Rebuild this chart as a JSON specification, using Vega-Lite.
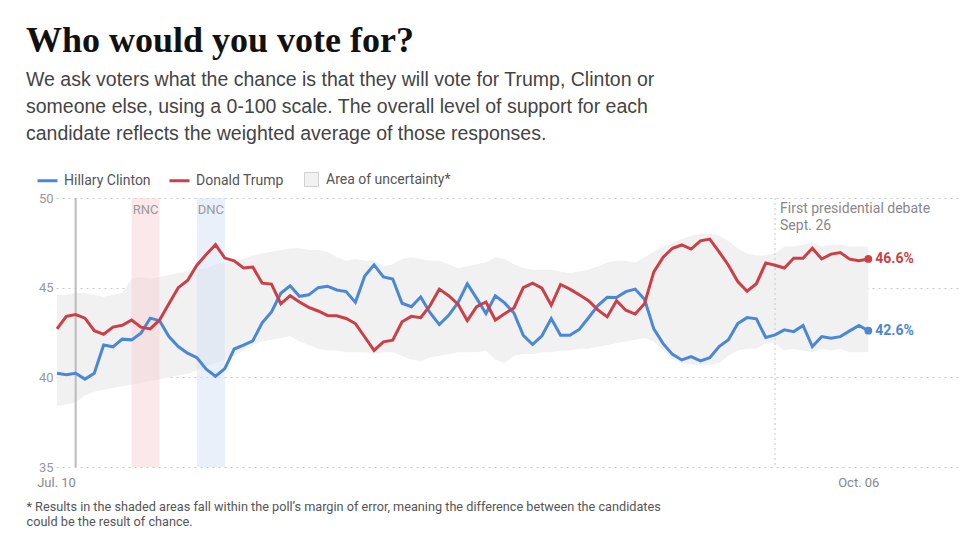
{
  "$schema": "https://vega.github.io/schema/vega-lite/v6.json",
  "autosize": "none",
  "width": 904,
  "height": 269,
  "padding": {"left": 56, "top": 198, "right": 5, "bottom": 71},
  "background": "white",
  "config": {
    "view": {"stroke": null},
    "font": "Roboto"
  },
  "title": {
    "text": "Who would you vote for?",
    "subtitle": [
      "We ask voters what the chance is that they will vote for Trump, Clinton or",
      "someone else, using a 0-100 scale. The overall level of support for each",
      "candidate reflects the weighted average of those responses."
    ],
    "anchor": "start",
    "frame": "group",
    "dx": -30,
    "offset": 25,
    "font": "Liberation Serif",
    "fontSize": 36,
    "fontWeight": "bold",
    "color": "#111111",
    "subtitleFont": "Liberation Sans",
    "subtitleFontSize": 19.5,
    "subtitleColor": "#444444",
    "subtitleLineHeight": 27,
    "subtitlePadding": 11
  },
  "datasets": {
    "poll": [
      {"date": "2016-07-11", "clinton": 40.23, "trump": 42.7, "lo": 38.4, "hi": 44.6},
      {"date": "2016-07-12", "clinton": 40.14, "trump": 43.4, "lo": 38.5, "hi": 44.6},
      {"date": "2016-07-13", "clinton": 40.23, "trump": 43.5, "lo": 38.6, "hi": 44.7},
      {"date": "2016-07-14", "clinton": 39.9, "trump": 43.3, "lo": 39.0, "hi": 44.7},
      {"date": "2016-07-15", "clinton": 40.23, "trump": 42.6, "lo": 39.2, "hi": 44.6},
      {"date": "2016-07-16", "clinton": 41.8, "trump": 42.4, "lo": 39.3, "hi": 44.5},
      {"date": "2016-07-17", "clinton": 41.7, "trump": 42.8, "lo": 39.4, "hi": 44.6},
      {"date": "2016-07-18", "clinton": 42.13, "trump": 42.9, "lo": 39.5, "hi": 44.7},
      {"date": "2016-07-19", "clinton": 42.09, "trump": 43.2, "lo": 39.6, "hi": 45.5},
      {"date": "2016-07-20", "clinton": 42.46, "trump": 42.8, "lo": 39.7, "hi": 45.6},
      {"date": "2016-07-21", "clinton": 43.3, "trump": 42.7, "lo": 39.8, "hi": 45.5},
      {"date": "2016-07-22", "clinton": 43.16, "trump": 43.2, "lo": 39.9, "hi": 45.6},
      {"date": "2016-07-23", "clinton": 42.27, "trump": 44.1, "lo": 40.0, "hi": 45.7},
      {"date": "2016-07-24", "clinton": 41.72, "trump": 45.0, "lo": 40.1, "hi": 45.8},
      {"date": "2016-07-25", "clinton": 41.35, "trump": 45.4, "lo": 40.2, "hi": 45.9},
      {"date": "2016-07-26", "clinton": 41.1, "trump": 46.25, "lo": 40.4, "hi": 46.0},
      {"date": "2016-07-27", "clinton": 40.45, "trump": 46.85, "lo": 40.6, "hi": 46.1},
      {"date": "2016-07-28", "clinton": 40.06, "trump": 47.4, "lo": 40.8, "hi": 46.3},
      {"date": "2016-07-29", "clinton": 40.49, "trump": 46.65, "lo": 41.0, "hi": 46.4},
      {"date": "2016-07-30", "clinton": 41.58, "trump": 46.5, "lo": 41.2, "hi": 46.5},
      {"date": "2016-07-31", "clinton": 41.8, "trump": 46.1, "lo": 41.5, "hi": 46.6},
      {"date": "2016-08-01", "clinton": 42.04, "trump": 46.15, "lo": 41.8, "hi": 46.8},
      {"date": "2016-08-02", "clinton": 43.04, "trump": 45.25, "lo": 42.0, "hi": 46.9},
      {"date": "2016-08-03", "clinton": 43.65, "trump": 45.2, "lo": 42.1, "hi": 47.0},
      {"date": "2016-08-04", "clinton": 44.69, "trump": 44.1, "lo": 42.2, "hi": 47.1},
      {"date": "2016-08-05", "clinton": 45.1, "trump": 44.55, "lo": 42.3, "hi": 47.2},
      {"date": "2016-08-06", "clinton": 44.52, "trump": 44.2, "lo": 42.0, "hi": 47.2},
      {"date": "2016-08-07", "clinton": 44.6, "trump": 43.9, "lo": 41.8, "hi": 47.1},
      {"date": "2016-08-08", "clinton": 45.0, "trump": 43.7, "lo": 41.6, "hi": 47.1},
      {"date": "2016-08-09", "clinton": 45.08, "trump": 43.45, "lo": 41.5, "hi": 47.0},
      {"date": "2016-08-10", "clinton": 44.87, "trump": 43.43, "lo": 41.5, "hi": 46.7},
      {"date": "2016-08-11", "clinton": 44.78, "trump": 43.28, "lo": 41.4, "hi": 46.5},
      {"date": "2016-08-12", "clinton": 44.18, "trump": 43.0, "lo": 41.4, "hi": 46.6},
      {"date": "2016-08-13", "clinton": 45.65, "trump": 42.25, "lo": 41.4, "hi": 46.5},
      {"date": "2016-08-14", "clinton": 46.27, "trump": 41.5, "lo": 41.3, "hi": 46.5},
      {"date": "2016-08-15", "clinton": 45.6, "trump": 41.98, "lo": 41.4, "hi": 46.2},
      {"date": "2016-08-16", "clinton": 45.48, "trump": 42.07, "lo": 41.4, "hi": 46.3},
      {"date": "2016-08-17", "clinton": 44.13, "trump": 43.1, "lo": 41.2, "hi": 46.6},
      {"date": "2016-08-18", "clinton": 43.94, "trump": 43.4, "lo": 41.0, "hi": 46.7},
      {"date": "2016-08-19", "clinton": 44.48, "trump": 43.33, "lo": 40.9, "hi": 46.6},
      {"date": "2016-08-20", "clinton": 43.6, "trump": 44.0, "lo": 41.1, "hi": 46.5},
      {"date": "2016-08-21", "clinton": 42.94, "trump": 44.92, "lo": 41.2, "hi": 46.5},
      {"date": "2016-08-22", "clinton": 43.46, "trump": 44.55, "lo": 41.3, "hi": 46.3},
      {"date": "2016-08-23", "clinton": 44.16, "trump": 44.08, "lo": 41.4, "hi": 46.1},
      {"date": "2016-08-24", "clinton": 45.22, "trump": 43.16, "lo": 41.4, "hi": 46.2},
      {"date": "2016-08-25", "clinton": 44.4, "trump": 43.94, "lo": 41.4, "hi": 46.3},
      {"date": "2016-08-26", "clinton": 43.56, "trump": 44.2, "lo": 41.5, "hi": 46.4},
      {"date": "2016-08-27", "clinton": 44.55, "trump": 43.2, "lo": 41.0, "hi": 46.7},
      {"date": "2016-08-28", "clinton": 44.15, "trump": 43.55, "lo": 40.8, "hi": 46.6},
      {"date": "2016-08-29", "clinton": 43.59, "trump": 43.87, "lo": 41.2, "hi": 46.3},
      {"date": "2016-08-30", "clinton": 42.34, "trump": 45.0, "lo": 41.3, "hi": 46.1},
      {"date": "2016-08-31", "clinton": 41.83, "trump": 45.25, "lo": 41.3, "hi": 46.0},
      {"date": "2016-09-01", "clinton": 42.32, "trump": 44.97, "lo": 41.4, "hi": 46.0},
      {"date": "2016-09-02", "clinton": 43.28, "trump": 44.02, "lo": 41.4, "hi": 46.0},
      {"date": "2016-09-03", "clinton": 42.35, "trump": 45.18, "lo": 41.5, "hi": 45.9},
      {"date": "2016-09-04", "clinton": 42.35, "trump": 44.92, "lo": 41.5, "hi": 45.8},
      {"date": "2016-09-05", "clinton": 42.67, "trump": 44.6, "lo": 41.6, "hi": 45.9},
      {"date": "2016-09-06", "clinton": 43.32, "trump": 44.27, "lo": 41.6, "hi": 46.0},
      {"date": "2016-09-07", "clinton": 44.0, "trump": 43.76, "lo": 41.7, "hi": 46.2},
      {"date": "2016-09-08", "clinton": 44.46, "trump": 43.37, "lo": 41.8, "hi": 46.4},
      {"date": "2016-09-09", "clinton": 44.45, "trump": 44.27, "lo": 41.9, "hi": 46.5},
      {"date": "2016-09-10", "clinton": 44.78, "trump": 43.74, "lo": 42.0, "hi": 46.5},
      {"date": "2016-09-11", "clinton": 44.92, "trump": 43.53, "lo": 42.1, "hi": 46.4},
      {"date": "2016-09-12", "clinton": 44.35, "trump": 44.1, "lo": 42.2, "hi": 46.7},
      {"date": "2016-09-13", "clinton": 42.7, "trump": 45.88, "lo": 42.0, "hi": 47.0},
      {"date": "2016-09-14", "clinton": 41.88, "trump": 46.7, "lo": 41.5, "hi": 47.3},
      {"date": "2016-09-15", "clinton": 41.28, "trump": 47.2, "lo": 41.0, "hi": 47.5},
      {"date": "2016-09-16", "clinton": 40.97, "trump": 47.38, "lo": 40.8, "hi": 47.7},
      {"date": "2016-09-17", "clinton": 41.16, "trump": 47.15, "lo": 40.7, "hi": 47.9},
      {"date": "2016-09-18", "clinton": 40.92, "trump": 47.61, "lo": 40.7, "hi": 48.0},
      {"date": "2016-09-19", "clinton": 41.1, "trump": 47.71, "lo": 40.7, "hi": 48.0},
      {"date": "2016-09-20", "clinton": 41.72, "trump": 47.0, "lo": 40.8, "hi": 47.9},
      {"date": "2016-09-21", "clinton": 42.1, "trump": 46.25, "lo": 41.2, "hi": 47.6},
      {"date": "2016-09-22", "clinton": 43.0, "trump": 45.34, "lo": 41.5, "hi": 47.2},
      {"date": "2016-09-23", "clinton": 43.33, "trump": 44.8, "lo": 41.6, "hi": 46.9},
      {"date": "2016-09-24", "clinton": 43.26, "trump": 45.22, "lo": 41.6, "hi": 46.8},
      {"date": "2016-09-25", "clinton": 42.22, "trump": 46.38, "lo": 41.9, "hi": 46.8},
      {"date": "2016-09-26", "clinton": 42.37, "trump": 46.25, "lo": 41.9, "hi": 46.9},
      {"date": "2016-09-27", "clinton": 42.65, "trump": 46.1, "lo": 41.5, "hi": 47.3},
      {"date": "2016-09-28", "clinton": 42.55, "trump": 46.64, "lo": 41.6, "hi": 47.3},
      {"date": "2016-09-29", "clinton": 42.89, "trump": 46.64, "lo": 41.5, "hi": 47.4},
      {"date": "2016-09-30", "clinton": 41.72, "trump": 47.2, "lo": 41.4, "hi": 47.5},
      {"date": "2016-10-01", "clinton": 42.27, "trump": 46.6, "lo": 41.6, "hi": 47.3},
      {"date": "2016-10-02", "clinton": 42.18, "trump": 46.87, "lo": 41.5, "hi": 47.4},
      {"date": "2016-10-03", "clinton": 42.27, "trump": 46.96, "lo": 41.6, "hi": 47.4},
      {"date": "2016-10-04", "clinton": 42.59, "trump": 46.59, "lo": 41.4, "hi": 47.3},
      {"date": "2016-10-05", "clinton": 42.89, "trump": 46.5, "lo": 41.4, "hi": 47.3},
      {"date": "2016-10-06", "clinton": 42.6, "trump": 46.6, "lo": 41.4, "hi": 47.3}
    ],
    "events": [
      {"event": "RNC", "start": "2016-07-19", "end": "2016-07-22"},
      {"event": "DNC", "start": "2016-07-26", "end": "2016-07-29"}
    ]
  },
  "data": {"name": "poll", "format": {"parse": {"date": "date"}}},
  "encoding": {
    "x": {
      "field": "date",
      "type": "temporal",
      "scale": {
        "type": "utc",
        "domain": [
          {"year": 2016, "month": 7, "date": 10, "hours": 21, "minutes": 26, "utc": true},
          {"year": 2016, "month": 10, "date": 15, "hours": 20, "minutes": 0, "utc": true}
        ]
      },
      "axis": {
        "values": [
          {"year": 2016, "month": 7, "date": 10, "hours": 21, "minutes": 30, "utc": true},
          {"year": 2016, "month": 10, "date": 6, "utc": true}
        ],
        "labelExpr": "utcFormat(datum.value, '%b. %d')",
        "grid": false,
        "domain": false,
        "ticks": false,
        "labelColor": "#888888",
        "labelFont": "Roboto",
        "labelFontSize": 13,
        "labelPadding": 9,
        "labelFlush": false,
        "labelOverlap": false,
        "labelOffset": {"condition": {"test": "datum.value > utc(2016, 7, 1)", "value": -10}, "value": 0},
        "title": [
          "* Results in the shaded areas fall within the poll’s margin of error, meaning the difference between the candidates",
          "could be the result of chance."
        ],
        "titleAnchor": "start",
        "titleAlign": "left",
        "titleBaseline": "top",
        "titleX": -30,
        "titleY": 33,
        "titleFont": "Roboto",
        "titleFontSize": 12.7,
        "titleFontWeight": "normal",
        "titleColor": "#555555",
        "titleLineHeight": 15
      }
    }
  },
  "layer": [
    {
      "mark": {"type": "area", "interpolate": "linear"},
      "encoding": {
        "y": {
          "field": "lo",
          "type": "quantitative",
          "scale": {"domain": [35, 50], "nice": false, "zero": false},
          "axis": {
            "values": [35, 40, 45, 50],
            "grid": true,
            "gridDash": [2, 4],
            "gridColor": "#c8c8c8",
            "gridWidth": 1,
            "domain": false,
            "ticks": false,
            "labelColor": "#999999",
            "labelFont": "Roboto",
            "labelFontSize": 13,
            "labelPadding": 3,
            "title": null
          }
        },
        "y2": {"field": "hi"},
        "fill": {
          "datum": "Area of uncertainty*",
          "type": "nominal",
          "scale": {"range": ["#f1f1f1"]},
          "legend": {
            "orient": "none",
            "legendX": 248,
            "legendY": -26,
            "title": null,
            "symbolType": "square",
            "symbolSize": 196,
            "symbolStrokeColor": "#d0d0d0",
            "symbolStrokeWidth": 1,
            "labelFont": "Roboto",
            "labelFontSize": 14,
            "labelColor": "#555555",
            "labelOffset": 7
          }
        }
      }
    },
    {
      "data": {"name": "events"},
      "mark": {"type": "rect", "opacity": 0.5},
      "encoding": {
        "x": {"field": "start", "type": "temporal"},
        "x2": {"field": "end"},
        "fill": {
          "condition": {"test": "datum.event == 'RNC'", "value": "#f6d2d5"},
          "value": "#d3e1f6"
        }
      }
    },
    {
      "data": {"values": [{"date": "2016-07-13"}]},
      "mark": {"type": "rule", "color": "#bbbbbb", "strokeWidth": 2},
      "encoding": {"x": {"field": "date", "type": "temporal"}}
    },
    {
      "data": {"values": [{"date": "2016-09-26"}]},
      "mark": {"type": "rule", "color": "#c8c8c8", "strokeWidth": 1, "strokeDash": [2, 3]},
      "encoding": {"x": {"field": "date", "type": "temporal"}}
    },
    {
      "transform": [{"fold": ["clinton", "trump"], "as": ["candidate", "value"]}],
      "mark": {"type": "line", "strokeWidth": 3, "interpolate": "linear"},
      "encoding": {
        "y": {"field": "value", "type": "quantitative"},
        "color": {
          "field": "candidate",
          "type": "nominal",
          "scale": {"domain": ["clinton", "trump"], "range": ["#4a87d6", "#cb3f48"]},
          "legend": {
            "orient": "none",
            "legendX": -20,
            "legendY": -29,
            "direction": "horizontal",
            "title": null,
            "symbolType": "stroke",
            "symbolSize": 400,
            "symbolStrokeWidth": 3,
            "labelFont": "Roboto",
            "labelFontSize": 14,
            "labelColor": "#555555",
            "labelOffset": 5,
            "columnPadding": 12,
            "labelExpr": "datum.label == 'clinton' ? 'Hillary Clinton' : 'Donald Trump'"
          }
        }
      }
    },
    {
      "transform": [
        {"fold": ["clinton", "trump"], "as": ["candidate", "value"]},
        {"filter": "time(datum.date) === utc(2016, 9, 6)"}
      ],
      "mark": {"type": "circle", "size": 60, "opacity": 1},
      "encoding": {
        "y": {"field": "value", "type": "quantitative"},
        "color": {"field": "candidate", "type": "nominal"}
      }
    },
    {
      "transform": [
        {"fold": ["clinton", "trump"], "as": ["candidate", "value"]},
        {"filter": "time(datum.date) === utc(2016, 9, 6)"}
      ],
      "mark": {
        "type": "text",
        "align": "left",
        "baseline": "middle",
        "dx": 7,
        "font": "Roboto",
        "fontSize": 14,
        "fontWeight": "bold",
        "text": {"expr": "format(datum.value, '.1f') + '%'"}
      },
      "encoding": {
        "y": {"field": "value", "type": "quantitative"},
        "color": {"field": "candidate", "type": "nominal"}
      }
    },
    {
      "data": {"name": "events"},
      "mark": {
        "type": "text",
        "align": "center",
        "baseline": "top",
        "dx": 14,
        "dy": 6,
        "font": "Roboto",
        "fontSize": 13,
        "color": "#999999"
      },
      "encoding": {
        "x": {"field": "start", "type": "temporal"},
        "y": {"datum": 50},
        "text": {"field": "event"}
      }
    },
    {
      "data": {"values": [{"date": "2016-09-26"}]},
      "mark": {
        "type": "text",
        "align": "left",
        "baseline": "top",
        "dx": 5,
        "dy": 4,
        "font": "Roboto",
        "fontSize": 14,
        "lineHeight": 17,
        "color": "#888888",
        "text": ["First presidential debate", "Sept. 26"]
      },
      "encoding": {
        "x": {"field": "date", "type": "temporal"},
        "y": {"datum": 50}
      }
    }
  ]
}
